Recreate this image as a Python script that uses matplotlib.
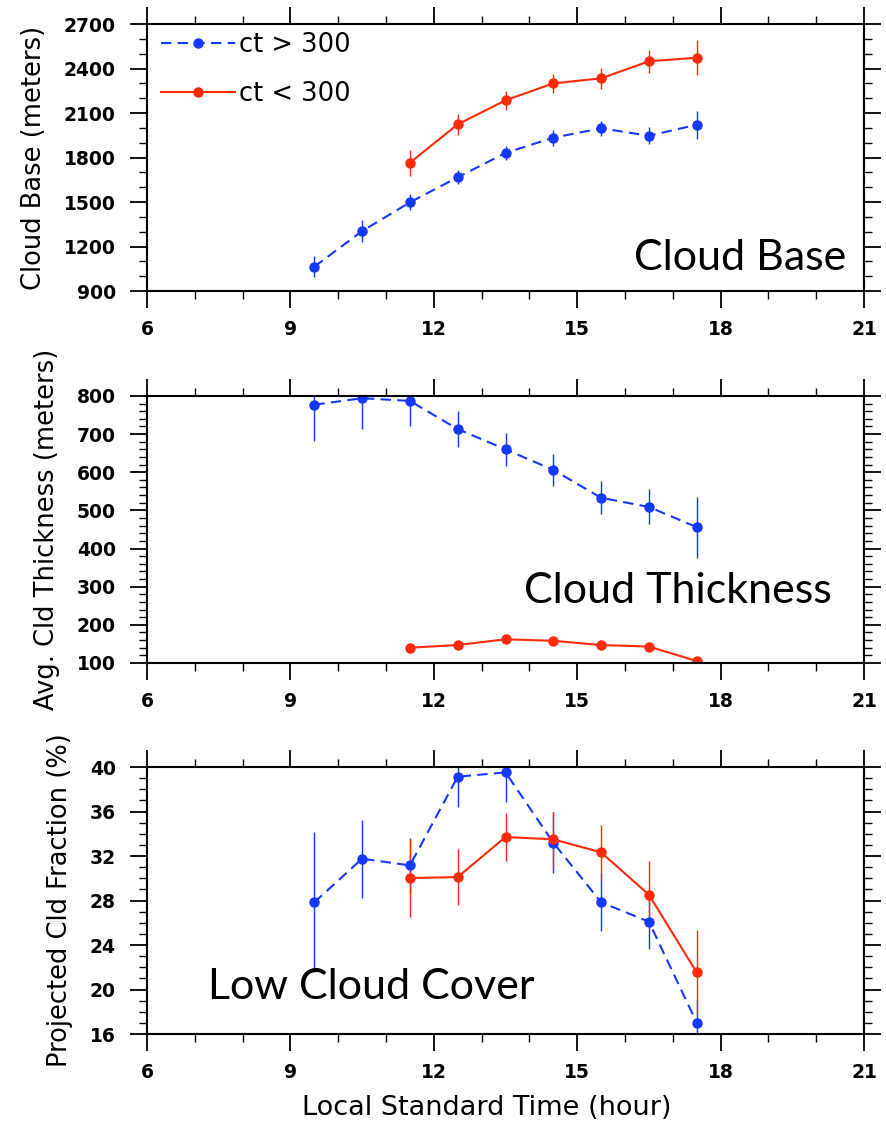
import matplotlib
matplotlib.use("Agg")
import matplotlib.pyplot as plt
from matplotlib.ticker import MultipleLocator
from matplotlib.lines import Line2D

# ---- data ----
hours_hi = [9.5, 10.5, 11.5, 12.5, 13.5, 14.5, 15.5, 16.5, 17.5]
hours_lo = [11.5, 12.5, 13.5, 14.5, 15.5, 16.5, 17.5]

base_hi = [1064, 1304, 1498, 1667, 1831, 1934, 1997, 1947, 2021]
base_hi_err = [72, 76, 53, 48, 50, 53, 50, 56, 95]
base_lo = [1765, 2024, 2186, 2300, 2334, 2449, 2473]
base_lo_err = [86, 71, 65, 66, 70, 78, 118]

thick_hi = [777, 794, 787, 713, 660, 606, 533, 509, 456]
thick_hi_err = [94, 81, 65, 48, 43, 43, 43, 46, 80]
thick_lo = [140, 147, 162, 158, 147, 143, 105]
thick_lo_err = [6, 5, 5, 5, 5, 5, 5]

frac_hi = [27.84, 31.76, 31.16, 39.13, 39.52, 33.2, 27.84, 26.1, 17.02]
frac_hi_err = [6.3, 3.5, 2.5, 2.7, 2.7, 2.76, 2.6, 2.5, 2.0]
frac_lo = [30.02, 30.11, 33.71, 33.5, 32.33, 28.52, 21.54]
frac_lo_err = [3.5, 2.5, 2.2, 2.5, 2.5, 3.0, 3.8]

labels = ["ct > 300", "ct < 300"]
xticks = [6, 9, 12, 15, 18, 21]

BLUE = "#1438ff"
RED = "#ff2a0a"
DASH = (0, (5, 3))

plt.rcParams['font.family'] = ['DejaVu Sans']

fig = plt.figure(figsize=(8.86, 11.29), dpi=100)

panels = [
    dict(rect=[0.1659, 0.7422, 0.8093, 0.2365], ylim=(900, 2700), major=300, minor=100,
         ylabel="Cloud Base (meters)", hi=base_hi, hie=base_hi_err, lo=base_lo, loe=base_lo_err,
         txt="Cloud Base", tx=0.975, ty=0.08, ha="right"),
    dict(rect=[0.1659, 0.4128, 0.8093, 0.2365], ylim=(100, 800), major=100, minor=20,
         ylabel="Avg. Cld Thickness (meters)", hi=thick_hi, hie=thick_hi_err, lo=thick_lo, loe=thick_lo_err,
         txt="Cloud Thickness", tx=0.955, ty=0.225, ha="right"),
    dict(rect=[0.1659, 0.0841, 0.8093, 0.2365], ylim=(16, 40), major=4, minor=1,
         ylabel="Projected Cld Fraction (%)", hi=frac_hi, hie=frac_hi_err, lo=frac_lo, loe=frac_lo_err,
         txt="Low Cloud Cover", tx=0.085, ty=0.13, ha="left"),
]

for i, p in enumerate(panels):
    ax = fig.add_axes(p["rect"])
    ax.set_xlim(6, 21)
    ax.set_ylim(*p["ylim"])
    ax.set_xticks(xticks)
    ax.xaxis.set_minor_locator(MultipleLocator(1))
    ax.yaxis.set_major_locator(MultipleLocator(p["major"]))
    ax.yaxis.set_minor_locator(MultipleLocator(p["minor"]))
    ax.tick_params(which="both", direction="out", top=True, right=True, width=1.3,
                   labelsize=13.5)
    ax.tick_params(which="major", length=12.5)
    ax.tick_params(which="minor", length=6, width=1.0)
    ax.tick_params(axis="y", which="major", pad=10)
    ax.tick_params(axis="x", which="major", pad=8.5)
    for lab in ax.get_xticklabels() + ax.get_yticklabels():
        lab.set_fontweight("bold")
    for s in ax.spines.values():
        s.set_linewidth(1.5)
    ax.set_ylabel(p["ylabel"], fontsize=18.5, labelpad=12)

    ax.errorbar(hours_hi, p["hi"], yerr=p["hie"], color=BLUE, ls=DASH, lw=1.5,
                marker="o", ms=6.5, elinewidth=1.0, capsize=0)
    ax.errorbar(hours_lo, p["lo"], yerr=p["loe"], color=RED, ls="-", lw=1.5,
                marker="o", ms=6.5, elinewidth=1.0, capsize=0)

    ax.text(p["tx"], p["ty"], p["txt"], transform=ax.transAxes, ha=p["ha"], va="baseline",
            fontsize=31, family=["Lato", "DejaVu Sans"])

    if i == 0:
        handles = [Line2D([], [], color=BLUE, ls=DASH, lw=1.5, marker="o", ms=6.5),
                   Line2D([], [], color=RED, ls="-", lw=1.5, marker="o", ms=6.5)]
        ax.legend(handles, labels, loc="upper left", bbox_to_anchor=(0.0085, 1.0),
                  frameon=False, fontsize=18.5,
                  handlelength=2.9, handletextpad=0.15, borderaxespad=0.3,
                  borderpad=0.0, labelspacing=0.92, numpoints=1)
    if i == 2:
        ax.set_xlabel("Local Standard Time (hour)", fontsize=19.5)
        ax.xaxis.set_label_coords(0.474, -0.228)

fig.savefig("out.png", dpi=100)
